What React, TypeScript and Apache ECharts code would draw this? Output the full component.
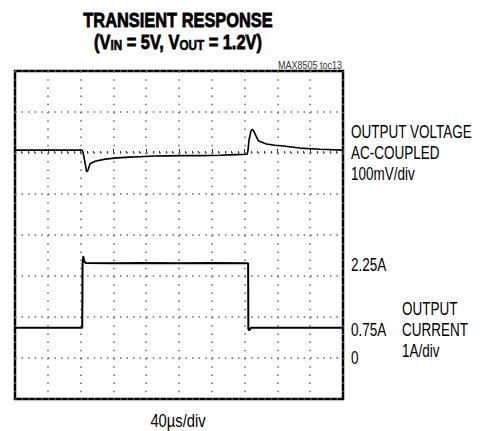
import React, { useEffect, useRef } from "react";
import * as echarts from "echarts";

// Output voltage trace (AC-coupled, mV) vs time (µs)
const voltageTime = [0, 81.7, 82.9, 84.8, 87.4, 89, 91.5, 97.6, 110, 124, 140, 152, 170, 185, 205, 226, 250, 270, 283, 284, 285.4, 287.8, 289.4, 291.5, 294, 296.7, 301, 306.7, 317, 327, 347.6, 372, 400];
const voltageMV = [7, 7, 2, -17, -46, -42, -26, -20, -15, -12, -10, -9, -7.5, -7, -6.5, -6.5, -5.5, -4, -3, 4, 32, 54, 58, 52, 41, 30, 26, 22, 19, 17, 12, 9, 7];

// Output current trace (A) vs time (µs)
const currentTime = [0, 82, 82.4, 83.2, 84.5, 86, 120, 160, 200, 240, 280, 284.3, 284.6, 285.8, 288, 320, 360, 400];
const currentA = [0.74, 0.74, 2.3, 2.48, 2.36, 2.32, 2.31, 2.32, 2.31, 2.32, 2.31, 2.31, 0.7, 0.68, 0.74, 0.74, 0.74, 0.74];

const rightLabels = [
  { text: "OUTPUT VOLTAGE", x: 351, y: 131.5 },
  { text: "AC-COUPLED", x: 351, y: 153 },
  { text: "100mV/div", x: 351, y: 174 },
  { text: "2.25A", x: 351, y: 265 },
  { text: "0.75A", x: 351, y: 330 },
  { text: "0", x: 351, y: 358 },
  { text: "OUTPUT", x: 402, y: 308.5 },
  { text: "CURRENT", x: 402, y: 329.5 },
  { text: "1A/div", x: 402, y: 350.5 },
];

const FONT = "Liberation Sans, Arial, sans-serif";

export default function App() {
  const ref = useRef<HTMLDivElement>(null);
  useEffect(() => {
    document.body.style.margin = "0";
    if (!ref.current) return;
    const chart = echarts.init(ref.current, null, { renderer: "svg" });
    const vData = voltageTime.map((t, i) => [t, voltageMV[i]]);
    const iData = currentTime.map((t, i) => [t, currentA[i]]);
    const graphics: any[] = [
      {
        type: "text",
        x: 178,
        y: 19.5,
        scaleX: 0.78,
        style: {
          text: "TRANSIENT RESPONSE",
          font: `bold 21px ${FONT}`,
          fill: "#000",
          stroke: "#000",
          lineWidth: 0.8,
          textAlign: "center",
          textVerticalAlign: "middle",
        },
      },
      {
        type: "text",
        x: 178,
        y: 42,
        scaleX: 0.78,
        style: {
          text: "(V{s|IN} = 5V, V{s|OUT} = 1.2V)",
          font: `bold 21px ${FONT}`,
          fill: "#000",
          stroke: "#000",
          lineWidth: 0.8,
          textAlign: "center",
          textVerticalAlign: "middle",
          rich: {
            s: {
              font: `bold 15px ${FONT}`,
              fill: "#000",
              stroke: "#000",
              lineWidth: 0.6,
              padding: [6, 0, 0, 0],
            },
          },
        },
      },
      {
        type: "text",
        x: 342,
        y: 65,
        scaleX: 0.9,
        style: {
          text: "MAX8505 toc13",
          font: `10px ${FONT}`,
          fill: "#333",
          textAlign: "right",
          textVerticalAlign: "middle",
        },
      },
      {
        type: "text",
        x: 178,
        y: 420,
        scaleX: 0.82,
        style: {
          text: "40µs/div",
          font: `18px ${FONT}`,
          fill: "#000",
          textAlign: "center",
          textVerticalAlign: "middle",
        },
      },
      ...rightLabels.map((l) => ({
        type: "text",
        x: l.x,
        y: l.y,
        scaleX: 0.75,
        style: {
          text: l.text,
          font: `18px ${FONT}`,
          fill: "#000",
          textAlign: "left",
          textVerticalAlign: "middle",
        },
      })),
    ];
    chart.setOption({
      animation: false,
      backgroundColor: "#fff",
      grid: {
        left: 15,
        top: 71,
        right: 141,
        bottom: 32,
        show: true,
        borderColor: "#000",
        borderWidth: 2.5,
      },
      xAxis: {
        type: "value",
        min: 0,
        max: 400,
        interval: 40,
        axisLabel: { show: false },
        axisLine: { show: false },
        axisTick: { show: true, inside: true, length: 4, lineStyle: { color: "#333" } },
        minorTick: { show: true, splitNumber: 5, length: 2, lineStyle: { color: "#333" } },
        splitLine: {
          show: true,
          lineStyle: { color: "#666", width: 1.5, type: [1.5, 6.7] },
        },
      },
      yAxis: [
        {
          type: "value",
          min: -600,
          max: 200,
          interval: 100,
          axisLabel: { show: false },
          axisLine: { show: false },
          axisTick: { show: false },
          splitLine: {
            show: true,
            lineStyle: { color: "#666", width: 1.5, type: [1.5, 5.06] },
          },
        },
        {
          type: "value",
          min: -1,
          max: 7,
          interval: 1,
          show: false,
          splitLine: { show: false },
        },
      ],
      series: [
        {
          type: "line",
          yAxisIndex: 0,
          data: vData,
          showSymbol: false,
          lineStyle: { color: "#000", width: 1.6 },
        },
        {
          type: "line",
          yAxisIndex: 1,
          data: iData,
          showSymbol: false,
          lineStyle: { color: "#000", width: 2 },
        },
      ],
      graphic: graphics,
    });
    return () => chart.dispose();
  }, []);
  return <div ref={ref} style={{ width: 484, height: 431 }} />;
}
